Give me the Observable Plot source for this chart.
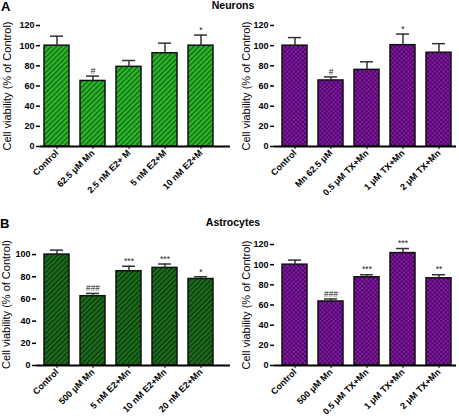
<!DOCTYPE html>
<html><head><meta charset="utf-8">
<script src="https://cdn.jsdelivr.net/npm/d3@7"></script>
<script src="https://cdn.jsdelivr.net/npm/@observablehq/plot@0.6"></script>
<style>
body{margin:0;background:#fff;}
#wrap{position:relative;width:459px;height:418px;overflow:hidden;font-family:"Liberation Sans",Arial,sans-serif;}
.abs{position:absolute;line-height:1;white-space:nowrap;z-index:2;}
.lbl{font-weight:bold;color:#000;}
.panel{position:absolute;}
</style></head><body>
<svg width="0" height="0" style="position:absolute">
<defs>
<pattern id="hatchG" width="3.6" height="3.6" patternUnits="userSpaceOnUse" patternTransform="rotate(45)">
<rect width="3.6" height="3.6" fill="#30b830"/><rect width="1.4" height="3.6" fill="#0e6a0e"/>
</pattern>
<pattern id="hatchDG" width="3.6" height="3.6" patternUnits="userSpaceOnUse" patternTransform="rotate(45)">
<rect width="3.6" height="3.6" fill="#1f6e1f"/><rect width="1.4" height="3.6" fill="#0a3a0a"/>
</pattern>
<pattern id="checkP" width="4.4" height="4.4" patternUnits="userSpaceOnUse">
<rect width="4.4" height="4.4" fill="#8a1ab0"/><rect width="2.2" height="2.2" fill="#45065a"/><rect x="2.2" y="2.2" width="2.2" height="2.2" fill="#45065a"/>
</pattern>
</defs>
</svg>
<div id="wrap">
<div class="abs lbl" style="left:1px;top:0px;font-size:13px">A</div>
<div class="abs lbl" style="left:233px;top:0px;font-size:10.5px;transform:translateX(-50%)">Neurons</div>
<div class="abs lbl" style="left:0px;top:217px;font-size:13px">B</div>
<div class="abs lbl" style="left:233px;top:217px;font-size:10.5px;transform:translateX(-50%)">Astrocytes</div>
</div>
<script>
const yLabel = "Cell viability (% of Control)";

// A – Neurons, estradiol
const neuronE2Labels = ["Control", "62.5 μM Mn", "2.5 nM E2+ M", "5 nM E2+M", "10 nM E2+M"];
const neuronE2Values = [100, 65, 79, 92.5, 100];
const neuronE2Errors = [9.4, 4.8, 6.3, 10, 10.5];
const neuronE2Sig = ["", "#", "", "", "*"];

// A – Neurons, tamoxifen
const neuronTXLabels = ["Control", "Mn 62.5 μM", "0.5 μM TX+Mn", "1 μM TX+Mn", "2 μM TX+Mn"];
const neuronTXValues = [100, 65.5, 76, 100.5, 93];
const neuronTXErrors = [8, 3.5, 8, 11, 9];
const neuronTXSig = ["", "#", "", "*", ""];

// B – Astrocytes, estradiol
const astroE2Labels = ["Control", "500 μM Mn", "5 nM E2+Mn", "10 nM E2+Mn", "20 nM E2+Mn"];
const astroE2Values = [100, 62.5, 85, 88, 78];
const astroE2Errors = [4, 2.5, 4.5, 3.5, 2];
const astroE2Sig = ["", "###", "***", "***", "*"];

// B – Astrocytes, tamoxifen
const astroTXLabels = ["Control", "500 μM Mn", "0.5 μM TX+Mn", "1 μM TX+Mn", "2 μM TX+Mn"];
const astroTXValues = [100, 63.5, 87.5, 111.5, 86.5];
const astroTXErrors = [4.5, 2.5, 2.5, 4.5, 3.5];
const astroTXSig = ["", "###", "***", "***", "**"];

const ticks120 = [0, 20, 40, 60, 80, 100, 120];
const ticks100 = [0, 20, 40, 60, 80, 100];

function makePanel(cfg) {
  const data = cfg.labels.map((l, i) => ({
    label: l, value: cfg.values[i], top: cfg.values[i] + cfg.errors[i], sig: cfg.sig[i]
  }));
  const svg = Plot.plot({
    width: cfg.width, height: cfg.height,
    marginLeft: cfg.ml, marginRight: cfg.mr, marginTop: cfg.mt, marginBottom: cfg.mb,
    style: {fontFamily: '"Liberation Sans", Arial, sans-serif', background: "transparent", color: "#000"},
    x: {domain: cfg.labels, range: cfg.xRange, paddingInner: 0.3, paddingOuter: 0.05},
    y: {domain: [0, cfg.yMax]},
    marks: [
      Plot.barY(data, {x: "label", y: "value", fill: `url(#${cfg.pattern})`, stroke: "#111", strokeWidth: 1.5}),
      Plot.ruleX(data, {x: "label", y1: "value", y2: "top", stroke: "#333", strokeWidth: 1.5}),
      Plot.tickY(data, {x: "label", y: "top", stroke: "#333", strokeWidth: 1.5, insetLeft: 6, insetRight: 6}),
      Plot.text(data, {x: "label", y: "top", text: "sig", dy: -5, fontSize: 8.5, fill: "#222"}),
      Plot.ruleY([0], {stroke: "#000", strokeWidth: 2}),
      Plot.axisY({ticks: cfg.yTicks, tickSize: 4, tickPadding: 2, fontSize: 9, fontWeight: "bold", label: null, line: true, strokeWidth: 1.5}),
      Plot.axisX({tickRotate: -45, tickSize: 3, tickPadding: 2, fontSize: 9, fontWeight: "bold", label: null}),
      Plot.text([yLabel], {frameAnchor: "left", textAnchor: "middle", dx: -cfg.labelOffset, rotate: -90, fontSize: 11, text: d => d})
    ]
  });
  svg.classList.add("panel");
  svg.style.left = cfg.left + "px";
  svg.style.top = cfg.top + "px";
  document.getElementById("wrap").appendChild(svg);
}

makePanel({labels: neuronE2Labels, values: neuronE2Values, errors: neuronE2Errors, sig: neuronE2Sig,
  pattern: "hatchG", yMax: 120, yTicks: ticks120,
  left: 0, top: 0, width: 230, height: 210, ml: 40, mr: 0, mt: 25, mb: 64,
  xRange: [40.7, 215.9], labelOffset: 33});
makePanel({labels: neuronTXLabels, values: neuronTXValues, errors: neuronTXErrors, sig: neuronTXSig,
  pattern: "checkP", yMax: 120, yTicks: ticks120,
  left: 229, top: 0, width: 230, height: 210, ml: 45, mr: 3, mt: 25, mb: 64,
  xRange: [50.2, 225.4], labelOffset: 28});
makePanel({labels: astroE2Labels, values: astroE2Values, errors: astroE2Errors, sig: astroE2Sig,
  pattern: "hatchDG", yMax: 110, yTicks: ticks100,
  left: 0, top: 210, width: 230, height: 208, ml: 36, mr: 0, mt: 33, mb: 53,
  xRange: [41.2, 216.4], labelOffset: 30});
makePanel({labels: astroTXLabels, values: astroTXValues, errors: astroTXErrors, sig: astroTXSig,
  pattern: "checkP", yMax: 120, yTicks: ticks120,
  left: 229, top: 210, width: 230, height: 208, ml: 45, mr: 3, mt: 34, mb: 53,
  xRange: [50.2, 225.4], labelOffset: 28});
</script>
</body></html>
